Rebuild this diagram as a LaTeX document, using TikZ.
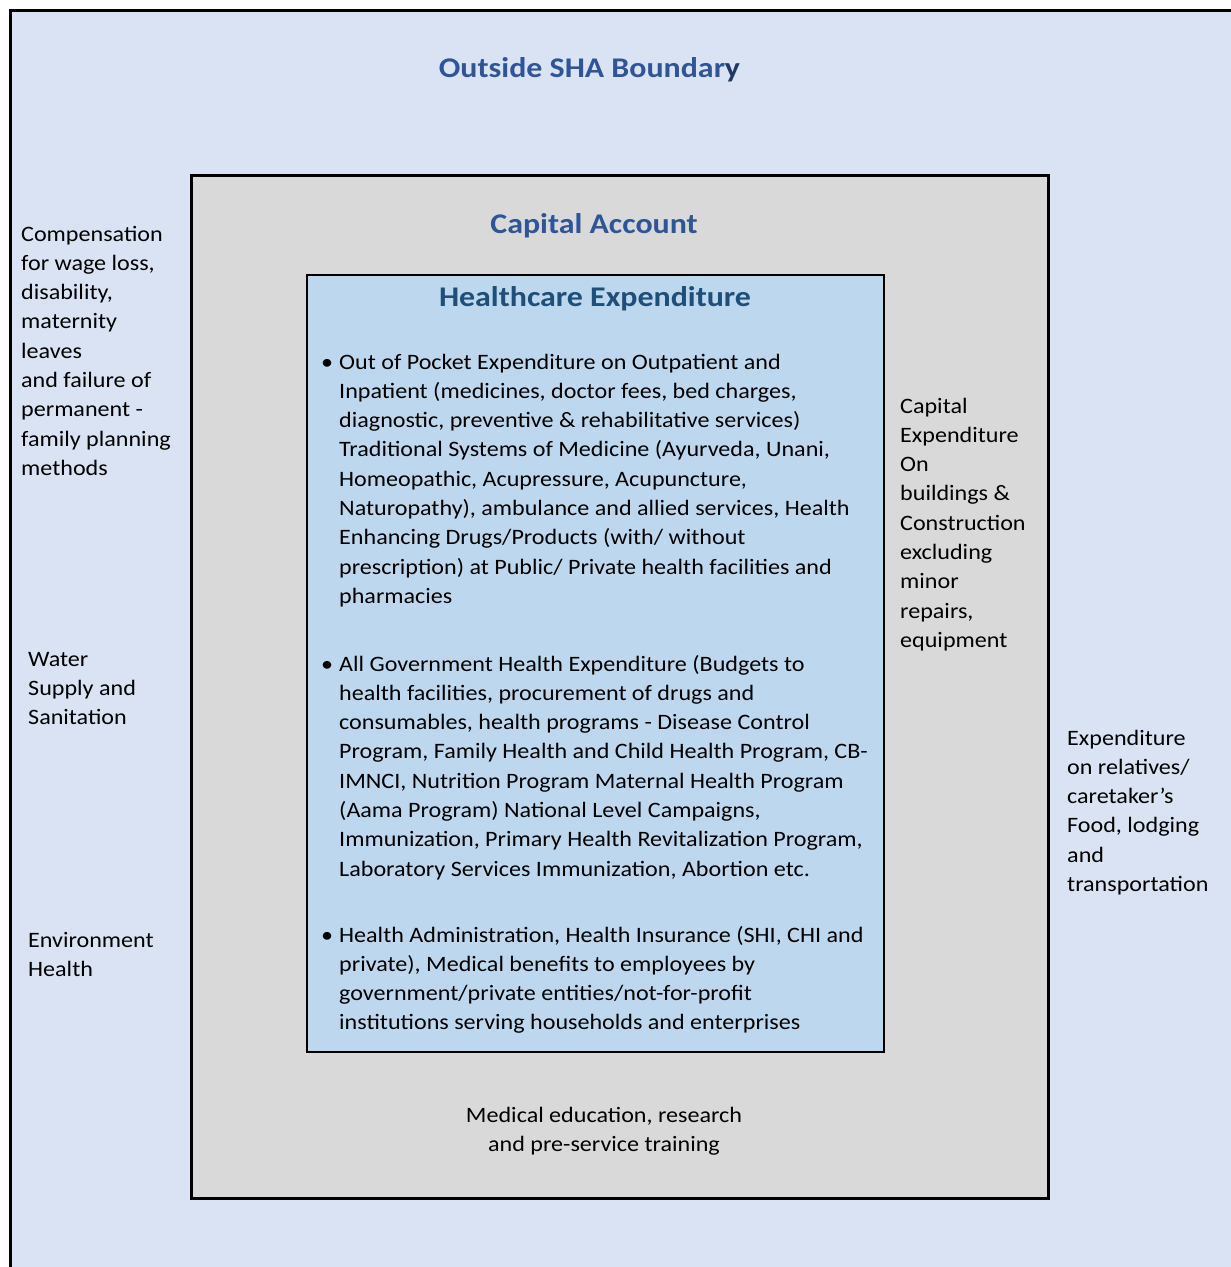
\documentclass[tikz,border=0pt]{standalone}
\usepackage{fontspec}
\setmainfont{Carlito}[FakeStretch=1.095]
\newfontfamily\titlefont{Carlito}[FakeStretch=1.12]
\definecolor{outerblue}{HTML}{DAE3F3}
\definecolor{capgrey}{HTML}{D9D9D9}
\definecolor{innerblue}{HTML}{BDD7EE}
\definecolor{titleblue}{HTML}{2F5597}
\definecolor{titlenavy}{HTML}{1F3864}
\definecolor{hcblue}{HTML}{1F4E79}
\newcommand\linesL[1]{\vtop{\baselineskip=29.3pt\lineskip=0pt\lineskiplimit=-30pt\halign{##\hfil\cr#1\crcr}}}
\newcommand\linesC[1]{\vtop{\baselineskip=29.3pt\lineskip=0pt\lineskiplimit=-30pt\halign{\hfil##\hfil\cr#1\crcr}}}
\newcommand\bul{\llap{\textbullet\kern6pt}}
\tikzset{
  body/.style={inner sep=0pt, font=\fontsize{22}{29.3}\selectfont, text=black},
  titletext/.style={inner sep=0pt, font=\titlefont\fontsize{28.5}{34}\selectfont\bfseries},
}
\begin{document}
\begin{tikzpicture}[x=1pt,y=-1pt]
\useasboundingbox[fill=white] (0,0) rectangle (1231,1267);
\begin{scope}
\clip (0,0) rectangle (1231,1267);
\draw[fill=outerblue, line width=3pt] (10,10) rectangle (1250,1290);
\end{scope}
\draw[fill=capgrey, line width=3pt] (191,175) rectangle (1048,1198);
\draw[fill=innerblue, line width=2pt] (307,275) rectangle (884,1052);

\node[titletext, text=titleblue, anchor=base] (t1) at (589.5,77) {Outside SHA Boundar{\color{titlenavy}y}};
\node[titletext, text=titleblue, anchor=base] (t2) at (594,233) {Capital Account};
\node[titletext, text=hcblue, anchor=base] (t3) at (595,306) {Healthcare Expenditure};

\node[body, anchor=base west] (p1) at (339,369) {\linesL{\bul Out of Pocket Expenditure on Outpatient and\cr
Inpatient (medicines, doctor fees, bed charges,\cr
diagnostic, preventive \& rehabilitative services)\cr
Traditional Systems of Medicine (Ayurveda, Unani,\cr
Homeopathic, Acupressure, Acupuncture,\cr
Naturopathy), ambulance and allied services, Health\cr
Enhancing Drugs/Products (with/ without\cr
prescription) at Public/ Private health facilities and\cr
pharmacies}};

\node[body, anchor=base west] (p2) at (339,671) {\linesL{\bul All Government Health Expenditure (Budgets to\cr
health facilities, procurement of drugs and\cr
consumables, health programs - Disease Control\cr
Program, Family Health and Child Health Program, CB-\cr
IMNCI, Nutrition Program Maternal Health Program\cr
(Aama Program) National Level Campaigns,\cr
Immunization, Primary Health Revitalization Program,\cr
Laboratory Services Immunization, Abortion etc.}};

\node[body, anchor=base west] (p3) at (339,942) {\linesL{\bul Health Administration, Health Insurance (SHI, CHI and\cr
private), Medical benefits to employees by\cr
government/private entities/not-for-profit\cr
institutions serving households and enterprises}};

\node[body, anchor=base west] (l1) at (21,241) {\linesL{Compensation\cr
for wage loss,\cr
disability,\cr
maternity\cr
leaves\cr
and failure of\cr
permanent -\cr
family planning\cr
methods}};

\node[body, anchor=base west] (l2) at (28,666) {\linesL{Water\cr
Supply and\cr
Sanitation}};

\node[body, anchor=base west] (l3) at (28,947) {\linesL{Environment\cr
Health}};

\node[body, anchor=base west] (r1) at (900,413) {\linesL{Capital\cr
Expenditure\cr
On\cr
buildings \&\cr
Construction\cr
excluding\cr
minor\cr
repairs,\cr
equipment}};

\node[body, anchor=base west] (r2) at (1067,745) {\linesL{Expenditure\cr
on relatives/\cr
caretaker’s\cr
Food, lodging\cr
and\cr
transportation}};

\node[body, anchor=base] (b1) at (604,1122) {\linesC{Medical education, research\cr
and pre-service training}};
\end{tikzpicture}
\end{document}
